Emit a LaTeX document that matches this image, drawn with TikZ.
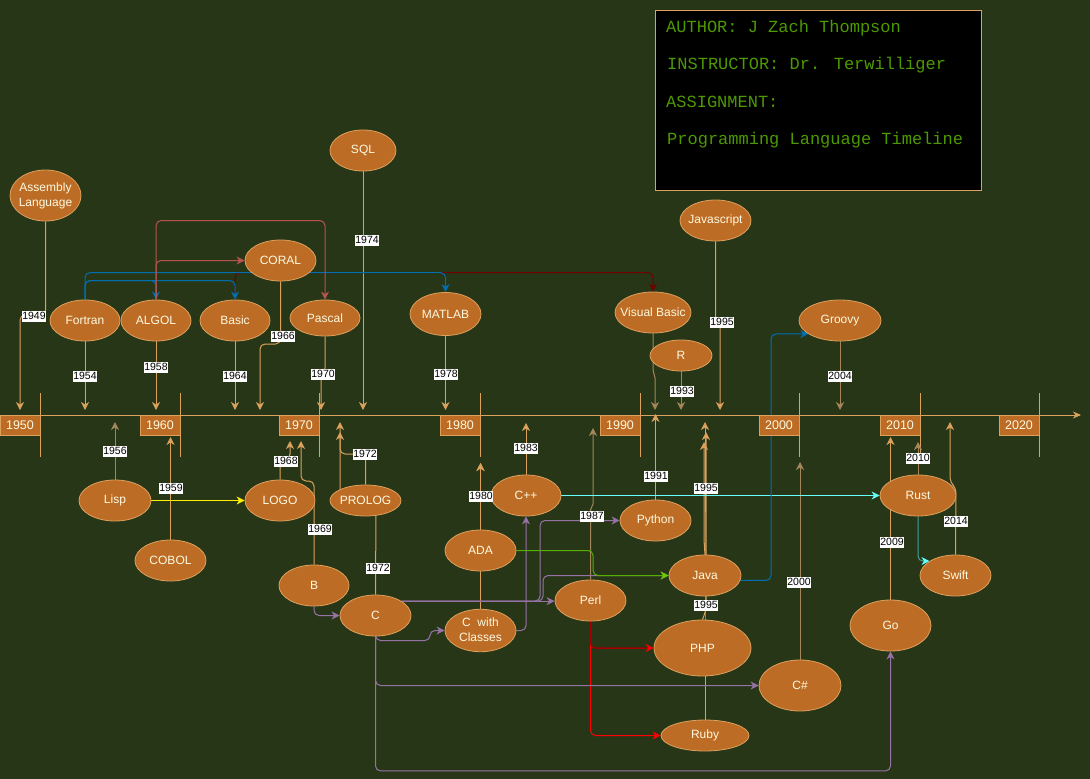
\documentclass[tikz,border=0pt]{standalone}
\usepackage{fontspec}
\setmainfont{Liberation Sans}
\newfontfamily\monof{Liberation Mono}
\usetikzlibrary{shapes.geometric,arrows.meta,calc}
\definecolor{bgc}{HTML}{283618}
\definecolor{nfill}{HTML}{BC6C25}
\definecolor{edgetan}{HTML}{DDA15E}
\definecolor{tanD}{HTML}{A3875A}
\definecolor{ntext}{HTML}{FEFAE0}
\definecolor{blueE}{HTML}{006EAF}
\definecolor{redE}{HTML}{B85450}
\definecolor{dredE}{HTML}{6F0000}
\definecolor{purE}{HTML}{9673A6}
\definecolor{grnE}{HTML}{55B000}
\definecolor{grnA}{HTML}{66CC00}
\definecolor{cyanE}{HTML}{66FFFF}
\definecolor{tealE}{HTML}{3FA29A}
\definecolor{pureRed}{HTML}{FF0000}
\definecolor{darkRedE}{HTML}{A00000}
\definecolor{infoG}{HTML}{4D9900}
\newcommand{\zw}[1]{\makebox[0pt][c]{#1}}
\pgfdeclarelayer{back}
\pgfdeclarelayer{edges}
\pgfsetlayers{back,edges,main}
\begin{document}
\begin{tikzpicture}[x=1pt,y=-1pt,
  lang/.style 2 args={ellipse, draw=edgetan, fill=nfill, text=ntext, line width=0.8pt,
    minimum width=#1pt, minimum height=#2pt, inner sep=0pt, font=\fontsize{12}{15}\selectfont},
  yearbox/.style={rectangle, draw=edgetan, fill=nfill, text=ntext, line width=0.8pt,
    minimum width=40pt, minimum height=20pt, inner sep=0pt, font=\fontsize{12.5}{14}\selectfont},
  lbl/.style={fill=white, text=black, inner xsep=0.6pt, inner ysep=0pt,
    text height=8.5pt, text depth=2.5pt, font=\fontsize{10.5}{12}\selectfont},
  tip/.style={-{Stealth[length=8pt,width=8pt,inset=2.5pt]}},
  yr/.style={draw=edgetan, line width=1pt, rounded corners=5pt, tip},
  yrd/.style={draw=tanD, line width=1pt, rounded corners=5pt, tip},
  con/.style={line width=1pt, rounded corners=5pt, tip},
  infotxt/.style={text=infoG, inner sep=0pt, anchor=base west, font=\monof\fontsize{17}{20}\selectfont}
]
\begin{pgfonlayer}{back}
\fill[bgc] (0,0) rectangle (1090,779);
\end{pgfonlayer}
\useasboundingbox (0,0) rectangle (1090,779);

% ---------- info box ----------
\node[draw=edgetan, fill=black, line width=1pt, minimum width=326pt, minimum height=180pt, inner sep=0pt] (info) at (818,100) {};
\node[infotxt] (info1) at (666,32) {AUTHOR: J Zach Thompson};
\node[infotxt] (info2) at (667,69) {INSTRUCTOR: Dr. Terwilliger};
\node[infotxt] (info3) at (666,107) {ASSIGNMENT:};
\node[infotxt] (info4) at (667,144) {Programming Language Timeline};

% ---------- axis ----------
\coordinate (axL) at (0,415);
\coordinate (axR) at (1081,415);
\begin{pgfonlayer}{edges}
\draw[edgetan, line width=1pt, -{Stealth[length=8pt,width=7pt,inset=2.5pt]}] (axL) -- (axR);
\foreach \tx in {40,180,319,480,640,799,920,1039}{
  \draw[edgetan, line width=1pt] (\tx,393) -- (\tx,457);
}
\end{pgfonlayer}
\foreach \tx/\yy in {40/1950,180/1960,319/1970,480/1980,640/1990,799/2000,920/2010,1039/2020}{
  \node[yearbox] (dec\yy) at (\tx-20,425) {\yy};
}

% ---------- language nodes ----------
\node[lang={71}{51}] (asm) at (45.5,195.5) {\zw{\begin{tabular}{@{}c@{}}Assembly\\Language\end{tabular}}};
\node[lang={70}{41}] (fortran) at (85,320.5) {\zw{Fortran}};
\node[lang={70}{41}] (algol) at (156,320.5) {\zw{ALGOL}};
\node[lang={70}{41}] (basic) at (235,320.5) {\zw{Basic}};
\node[lang={71}{41}] (coral) at (280.5,260.5) {\zw{CORAL}};
\node[lang={70}{36}] (pascal) at (325,318) {\zw{Pascal}};
\node[lang={66}{41}] (sql) at (363,150.5) {\zw{SQL}};
\node[lang={71}{43}] (matlab) at (445.5,314) {\zw{MATLAB}};
\node[lang={76}{41}] (vb) at (653,312.5) {\zw{Visual Basic}};
\node[lang={62}{31}] (r) at (681,355.5) {\zw{R}};
\node[lang={71}{41}] (js) at (715.5,220.5) {\zw{Javascript}};
\node[lang={82}{41}] (groovy) at (840,320.5) {\zw{Groovy}};
\node[lang={72}{41}] (lisp) at (115,500.5) {\zw{Lisp}};
\node[lang={71}{41}] (cobol) at (170.5,560.5) {\zw{COBOL}};
\node[lang={70}{41}] (logo) at (280,500.5) {\zw{LOGO}};
\node[lang={71}{31}] (prolog) at (365.5,500.5) {\zw{PROLOG}};
\node[lang={70}{41}] (b) at (314,585.5) {\zw{B}};
\node[lang={71}{41}] (c) at (375.5,615.5) {\zw{C}};
\node[lang={71}{41}] (cwc) at (480.5,630.5) {\zw{\begin{tabular}{@{}c@{}}C\ \ with\\Classes\end{tabular}}};
\node[lang={71}{41}] (ada) at (480.5,550.5) {\zw{ADA}};
\node[lang={70}{41}] (cpp) at (526,495.5) {\zw{C++}};
\node[lang={71}{41}] (python) at (655.5,520.5) {\zw{Python}};
\node[lang={71}{41}] (perl) at (590.5,600.5) {\zw{Perl}};
\node[lang={72}{41}] (java) at (705,575.5) {\zw{Java}};
\node[lang={97}{56}] (php) at (702.5,648) {\zw{PHP}};
\node[lang={88}{31}] (ruby) at (705,735.5) {\zw{Ruby}};
\node[lang={82}{51}] (cs) at (800,685.5) {\zw{C\#}};
\node[lang={81}{51}] (go) at (890.5,625.5) {\zw{Go}};
\node[lang={76}{41}] (rust) at (918,495.5) {\zw{Rust}};
\node[lang={71}{41}] (swift) at (955.5,575.5) {\zw{Swift}};

% ---------- arrow tips on the axis ----------
\coordinate (t1949) at (20,410);
\coordinate (t1954) at (85,410);
\coordinate (t1958) at (156,410);
\coordinate (t1964) at (235,410);
\coordinate (t1966) at (260,410);
\coordinate (t1970) at (321,410);
\coordinate (t1974) at (363,410);
\coordinate (t1978) at (445.5,410);
\coordinate (tvb) at (655,410);
\coordinate (t1993) at (681,410);
\coordinate (tjs) at (720,410);
\coordinate (t2004) at (840,410);
\coordinate (t1956) at (115,422);
\coordinate (t1959) at (170.5,437);
\coordinate (t1968) at (290,441);
\coordinate (t1969) at (301,441);
\coordinate (t1972p) at (340,432);
\coordinate (t1972c) at (340,422);
\coordinate (t1980) at (480.5,463);
\coordinate (t1983) at (526,423);
\coordinate (t1987) at (593,428);
\coordinate (t1991) at (655.5,414);
\coordinate (tjava) at (704,442);
\coordinate (tphp) at (706,432);
\coordinate (truby) at (705,422);
\coordinate (t2000) at (800,462);
\coordinate (t2009) at (890.5,437);
\coordinate (t2010) at (918,442);
\coordinate (t2014) at (950,422);

\begin{pgfonlayer}{edges}
% year connectors, above the axis
\draw[yr] (asm.south) -- (45.5,315) -- (20,315) -- (t1949);
\draw[yr] (fortran.south) -- (t1954);
\draw[yr] (algol.south) -- (t1958);
\draw[yr] (basic.south) -- (t1964);
\draw[yr] (coral.south) -- (280.5,344) -- (260,344) -- (t1966);
\draw[yr, rounded corners=0pt] (pascal.south) -- (325,368) -- (321,378) -- (t1970);
\draw[yr] (sql.south) -- (t1974);
\draw[yr] (matlab.south) -- (t1978);
\draw[yrd, rounded corners=0pt] (vb.south) -- (653,370) -- (655,378) -- (tvb);
\draw[yrd] (r.south) -- (t1993);
\draw[yr] (js.south) -- (715.5,322) -- (720,322) -- (tjs);
\draw[yrd] (groovy.south) -- (t2004);
% year connectors, below the axis
\draw[yrd] (lisp.north) -- (t1956);
\draw[yr] (cobol.north) -- (t1959);
\draw[yr] (logo.north) -- (280,463) -- (290,459) -- (t1968);
\draw[yr] (b.north) -- (314,481) -- (301,481) -- (t1969);
\draw[yr] (c.north) -- (376,506) -- (340,506) -- (t1972c);
\draw[yr] (prolog.north) -- (365.5,454) -- (340,454) -- (t1972p);
\draw[yr] (cwc.north) -- (t1980);
\draw[yr] (ada.north) -- (t1980);
\draw[yr] (cpp.north) -- (t1983);
\draw[yrd, rounded corners=0pt] (perl.north) -- (590.5,510) -- (593,504) -- (t1987);
\draw[yr] (python.north) -- (t1991);
\draw[yr] (ruby.north) -- (705,600) -- (truby);
\draw[yr] (php.north) -- (706,610) -- (tphp);
\draw[yr] (java.north) -- (704,540) -- (tjava);
\draw[yrd] (cs.north) -- (t2000);
\draw[yr] (go.north) -- (t2009);
\draw[yrd] (rust.north) -- (t2010);
\draw[yr] (swift.north) -- (956,488) -- (950,482) -- (t2014);

% influence connectors
\draw[con, draw=dredE, -{Stealth[length=8pt,width=8pt,inset=2.5pt,color=dredE]}] (basic.north) -- ++(0,-27) -| (vb.north);
\draw[con, draw=blueE] (fortran.north) -- ++(0,-27) -| (matlab.north);
\draw[con, draw=blueE] (fortran.north) -- ++(0,-19) -| (algol.north);
\draw[con, draw=blueE] (fortran.north) -- ++(0,-19) -| (basic.north);
\draw[con, draw=redE] (algol.north) |- (coral.west);
\draw[con, draw=redE] (algol.north) -- ++(0,-79) -| (pascal.north);
\draw[con, draw=yellow] (lisp.east) -- (logo.west);
\draw[con, draw=purE] (b.south) |- (c.west);
\draw[con, draw=purE] (c.south) |- (430,640.5) |- (cwc.west);
\draw[con, draw=purE] (cwc.east) -| (cpp.south);
\draw[con, draw=purE] (c.29) -- (c.29 -| perl.west);
\draw[con, draw=purE] (c.29) -| (540,520.5) -- (python.west);
\draw[con, draw=purE] (c.29) -| (543,575.5) -- (java.west);
\draw[con, draw=grnE, -{Stealth[length=8pt,width=8pt,inset=2.5pt,color=grnA]}] (ada.east) -| (593,575.5) -- (java.west);
\draw[con, draw=cyanE] (cpp.east) -- (rust.west);
\draw[con, draw=tealE, -{Stealth[length=8pt,width=8pt,inset=2.5pt,color=cyanE]}] (rust.south) |- (swift.151);
\draw[con, draw=pureRed] (perl.south) |- (ruby.west);
\draw[con, draw=darkRedE, line width=1.5pt, -{Stealth[length=8pt,width=8pt,inset=2.5pt,color=pureRed]}] (perl.south) |- (php.west);
\draw[con, draw=purE] (c.south) |- (cs.west);
\draw[con, draw=purE] (c.south) -- ++(0,134.5) -| (go.south);
\draw[con, draw=blueE] (java.-8) -| (771,400) |- (groovy.203);
\end{pgfonlayer}

% ---------- year labels on connectors ----------
\node[lbl] (l1949) at (34,316) {1949};
\node[lbl] (l1954) at (85,376) {1954};
\node[lbl] (l1958) at (156,367) {1958};
\node[lbl] (l1964) at (235,376) {1964};
\node[lbl] (l1966) at (283,336) {1966};
\node[lbl] (l1970) at (323,374) {1970};
\node[lbl] (l1974) at (367,240) {1974};
\node[lbl] (l1978) at (446,374) {1978};
\node[lbl] (l1993) at (682,391) {1993};
\node[lbl] (l1995a) at (722,322) {1995};
\node[lbl] (l2004) at (840,376) {2004};
\node[lbl] (l1956) at (115,451) {1956};
\node[lbl] (l1959) at (171,488) {1959};
\node[lbl] (l1968) at (286,461) {1968};
\node[lbl] (l1969) at (320,529) {1969};
\node[lbl] (l1972a) at (365,454) {1972};
\node[lbl] (l1972b) at (378,568) {1972};
\node[lbl] (l1980) at (481,496) {1980};
\node[lbl] (l1983) at (526,448) {1983};
\node[lbl] (l1987) at (592,516) {1987};
\node[lbl] (l1991) at (656,476) {1991};
\node[lbl] (l1995b) at (706,488) {1995};
\node[lbl] (l1995c) at (706,605) {1995};
\node[lbl] (l2000) at (799,582) {2000};
\node[lbl] (l2009) at (892,542) {2009};
\node[lbl] (l2010) at (918,458) {2010};
\node[lbl] (l2014) at (956,521) {2014};
\end{tikzpicture}
\end{document}
